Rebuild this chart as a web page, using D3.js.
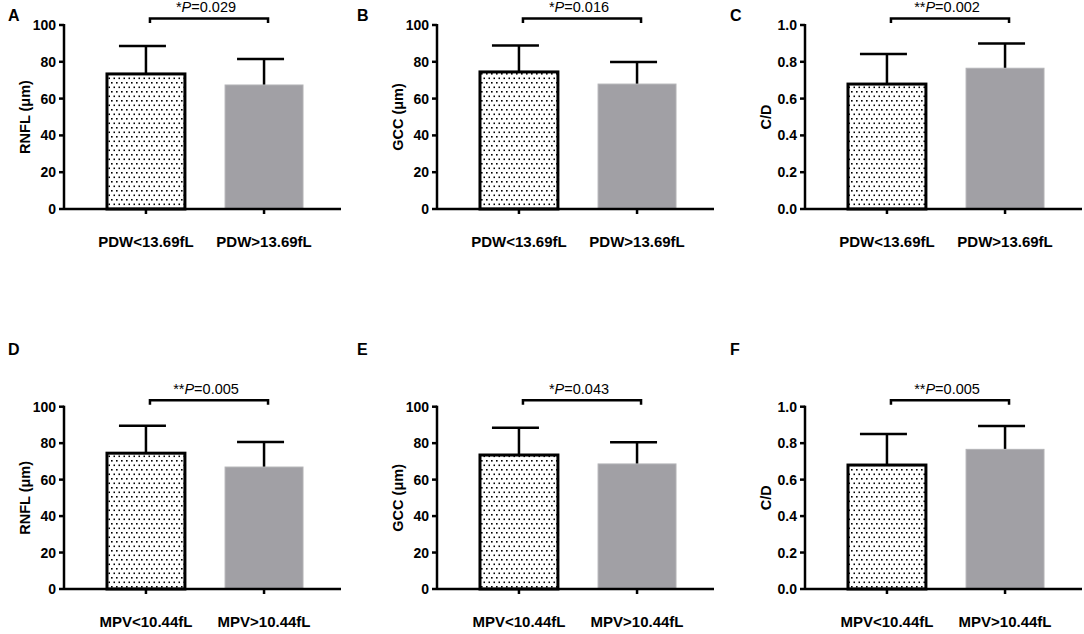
<!DOCTYPE html>
<html>
<head>
<meta charset="utf-8">
<script src="https://cdn.jsdelivr.net/npm/d3@7"></script>
<style>
  body { margin: 0; background: #fff; }
  svg { display: block; font-family: "Liberation Sans", Arial, Helvetica, sans-serif; }
  .axis-line { stroke: #000; stroke-width: 2.5; fill: none; }
  .tick-label { font-size: 14px; font-weight: bold; }
  .y-title { font-size: 14.5px; font-weight: bold; }
  .x-label { font-size: 15px; font-weight: bold; }
  .p-text { font-size: 14.5px; }
  .panel-letter { font-size: 16px; font-weight: bold; }
</style>
</head>
<body>
<div id="chart"></div>
<script>
(function() {
    // ---- data ----
    const panelLetters = ["A", "B", "C", "D", "E", "F"];
    const yTitles = ["RNFL (μm)", "GCC (μm)", "C/D", "RNFL (μm)", "GCC (μm)", "C/D"];
    const groupsPDW = ["PDW<13.69fL", "PDW>13.69fL"];
    const groupsMPV = ["MPV<10.44fL", "MPV>10.44fL"];
    const meansA = [73.4, 67.4];
    const meansB = [74.5, 67.9];
    const meansC = [0.679, 0.765];
    const meansD = [74.5, 66.9];
    const meansE = [73.5, 68.6];
    const meansF = [0.680, 0.766];
    const sdA = [15.2, 14.1];
    const sdB = [14.3, 12.0];
    const sdC = [0.163, 0.135];
    const sdD = [15.1, 13.7];
    const sdE = [15.0, 11.9];
    const sdF = [0.170, 0.128];
    const umTicks = [0, 20, 40, 60, 80, 100];
    const cdTicks = [0, 0.2, 0.4, 0.6, 0.8, 1.0];
    const stars = ["*", "*", "**", "**", "*", "**"];
    const pValues = ["0.029", "0.016", "0.002", "0.005", "0.043", "0.005"];

    const width = 1084, height = 634;

    const svg = d3.select("#chart").append("svg")
        .attr("width", width)
        .attr("height", height);

    svg.append("rect").attr("width", width).attr("height", height).attr("fill", "#fff");

    // dotted fill for the first bar
    const pat = svg.append("defs").append("pattern")
        .attr("id", "dots")
        .attr("patternUnits", "userSpaceOnUse")
        .attr("width", 5).attr("height", 9);
    pat.append("rect").attr("width", 5).attr("height", 9).attr("fill", "#fff");
    pat.append("rect").attr("x", 1).attr("y", 1).attr("width", 1.6).attr("height", 1.6).attr("fill", "#000");
    pat.append("rect").attr("x", 3.5).attr("y", 5.5).attr("width", 1.6).attr("height", 1.6).attr("fill", "#000");

    const panels = [
        { means: meansA, sd: sdA, groups: groupsPDW, ticks: umTicks, max: 100, fmt: d3.format("d") },
        { means: meansB, sd: sdB, groups: groupsPDW, ticks: umTicks, max: 100, fmt: d3.format("d") },
        { means: meansC, sd: sdC, groups: groupsPDW, ticks: cdTicks, max: 1, fmt: d3.format(".1f") },
        { means: meansD, sd: sdD, groups: groupsMPV, ticks: umTicks, max: 100, fmt: d3.format("d") },
        { means: meansE, sd: sdE, groups: groupsMPV, ticks: umTicks, max: 100, fmt: d3.format("d") },
        { means: meansF, sd: sdF, groups: groupsMPV, ticks: cdTicks, max: 1, fmt: d3.format(".1f") }
    ];

    // layout of the 2x3 grid
    const axisX = [64, 437, 805];
    const letterX = [8, 357, 730];
    const rows = [
        { top: 25, base: 209, letterY: 20.5 },
        { top: 406.7, base: 589, letterY: 355 }
    ];
    const axisLen = 277;

    panels.forEach((p, i) => {
        const col = i % 3, row = rows[Math.floor(i / 3)];
        const x0 = axisX[col];

        const g = svg.append("g");

        const x = d3.scaleBand()
            .domain(p.groups)
            .range([x0, x0 + 282])
            .paddingInner(0.34)
            .paddingOuter(0.364);

        const y = d3.scaleLinear()
            .domain([0, p.max])
            .range([row.base, row.top]);

        const bars = p.groups.map((name, j) => ({ name, mean: p.means[j], sd: p.sd[j], j }));

        // error bars (upper only)
        const err = g.append("g");
        err.selectAll("line.err-v")
            .data(bars).join("line")
            .attr("class", "axis-line")
            .attr("x1", d => x(d.name) + x.bandwidth() / 2)
            .attr("x2", d => x(d.name) + x.bandwidth() / 2)
            .attr("y1", d => y(d.mean))
            .attr("y2", d => y(d.mean + d.sd));
        err.selectAll("line.err-cap")
            .data(bars).join("line")
            .attr("class", "axis-line")
            .attr("x1", d => x(d.name) + x.bandwidth() / 2 - 27)
            .attr("x2", d => x(d.name) + x.bandwidth() / 2 + 20)
            .attr("y1", d => y(d.mean + d.sd))
            .attr("y2", d => y(d.mean + d.sd));

        // bars
        g.append("g").selectAll("rect")
            .data(bars).join("rect")
            .attr("x", d => x(d.name))
            .attr("width", x.bandwidth())
            .attr("y", d => y(d.mean))
            .attr("height", d => y(0) - y(d.mean))
            .attr("fill", d => d.j === 0 ? "url(#dots)" : "#a1a0a5")
            .attr("stroke", d => d.j === 0 ? "#000" : "#b3b3b6")
            .attr("stroke-width", d => d.j === 0 ? 3 : 1);

        // y axis
        g.append("line").attr("class", "axis-line")
            .attr("x1", x0).attr("x2", x0)
            .attr("y1", y(p.max) - 1).attr("y2", row.base + 1);
        g.append("g").selectAll("line")
            .data(p.ticks).join("line")
            .attr("class", "axis-line")
            .attr("x1", x0 - 5).attr("x2", x0)
            .attr("y1", d => y(d)).attr("y2", d => y(d));
        g.append("g").selectAll("text")
            .data(p.ticks).join("text")
            .attr("class", "tick-label")
            .attr("x", x0 - 8)
            .attr("y", d => y(d))
            .attr("dy", "0.36em")
            .attr("text-anchor", "end")
            .text(d => p.fmt(d));

        // x axis
        g.append("line").attr("class", "axis-line")
            .attr("x1", x0).attr("x2", x0 + axisLen)
            .attr("y1", row.base).attr("y2", row.base);
        g.append("g").selectAll("line")
            .data(p.groups).join("line")
            .attr("class", "axis-line")
            .attr("x1", d => x(d) + x.bandwidth() / 2)
            .attr("x2", d => x(d) + x.bandwidth() / 2)
            .attr("y1", row.base).attr("y2", row.base + 5);
        g.append("g").selectAll("text")
            .data(p.groups).join("text")
            .attr("class", "x-label")
            .attr("x", d => x(d) + x.bandwidth() / 2)
            .attr("y", row.base + 38)
            .attr("text-anchor", "middle")
            .text(d => d);

        // y title
        g.append("text")
            .attr("class", "y-title")
            .attr("transform", `translate(${x0 - 34},${(row.top + row.base) / 2}) rotate(-90)`)
            .attr("text-anchor", "middle")
            .text(yTitles[i]);

        // significance bracket
        const c1 = x(p.groups[0]) + x.bandwidth() / 2 + 4;
        const c2 = x(p.groups[1]) + x.bandwidth() / 2 + 4;
        const by = row.top - 6.5;
        g.append("path")
            .attr("class", "axis-line")
            .attr("d", `M${c1},${by + 4.5}V${by}H${c2}V${by + 4.5}`);
        const pt = g.append("text")
            .attr("class", "p-text")
            .attr("x", (c1 + c2) / 2 - 3)
            .attr("y", by - 6.5)
            .attr("text-anchor", "middle");
        pt.append("tspan").text(stars[i]);
        pt.append("tspan").attr("font-style", "italic").text("P");
        pt.append("tspan").text("=" + pValues[i]);

        // panel letter
        g.append("text")
            .attr("class", "panel-letter")
            .attr("x", letterX[col])
            .attr("y", row.letterY)
            .text(panelLetters[i]);
    });
})();
</script>
</body>
</html>
